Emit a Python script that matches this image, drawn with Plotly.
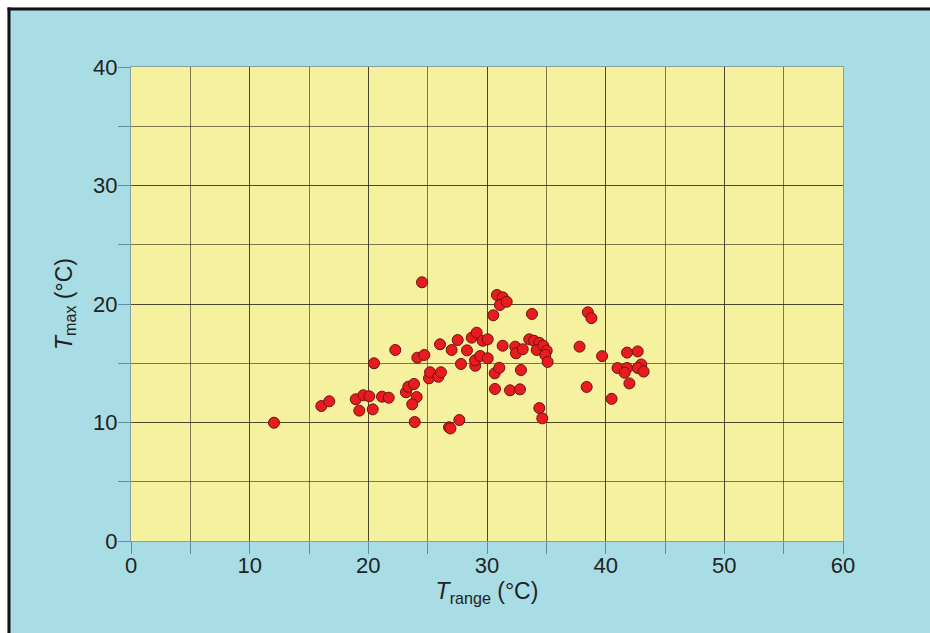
import plotly.graph_objects as go

t_range = [12.05, 16.04, 16.71, 18.94, 19.58, 20.08, 19.24, 20.37, 20.48, 21.15,
           21.72, 22.27, 23.17, 23.37, 23.85, 24.07, 23.70, 23.91, 24.13, 24.52,
           24.72, 25.11, 25.20, 25.90, 26.12, 26.04, 26.80, 26.92, 27.02, 27.53,
           27.67, 27.81, 28.31, 28.71, 29.13, 29.01, 28.99, 29.43, 29.64, 30.06,
           30.06, 30.53, 30.65, 30.67, 30.84, 31.32, 31.09, 31.66, 31.04, 31.32,
           31.94, 32.38, 32.44, 33.01, 32.78, 32.86, 33.56, 33.79, 33.96, 34.41,
           34.19, 34.74, 35.03, 34.91, 35.11, 34.41, 34.66, 37.8, 38.5, 38.8,
           38.4, 39.7, 40.5, 41.0, 41.8, 41.6, 41.8, 42.7, 43.0, 42.7,
           43.2, 42.0]
t_max = [9.98, 11.39, 11.79, 11.96, 12.30, 12.21, 11.00, 11.11, 15.00, 12.18,
         12.09, 16.12, 12.55, 13.02, 13.25, 12.15, 11.54, 10.04, 15.47, 21.83,
         15.70, 13.73, 14.24, 13.86, 14.24, 16.60, 9.60, 9.50, 16.12, 16.96,
         10.21, 14.94, 16.09, 17.16, 17.58, 14.79, 15.25, 15.61, 16.90, 17.02,
         15.42, 19.05, 14.15, 12.83, 20.76, 20.57, 19.92, 20.19, 14.62, 16.48,
         12.72, 16.40, 15.84, 16.18, 12.80, 14.43, 17.02, 19.16, 16.90, 16.73,
         16.12, 16.48, 16.06, 15.70, 15.11, 11.22, 10.35, 16.4, 19.3, 18.8,
         13.0, 15.6, 12.0, 14.6, 14.6, 14.2, 15.9, 16.0, 14.9, 14.6,
         14.3, 13.3]

x_ticks = [0, 10, 20, 30, 40, 50, 60]
y_ticks = [0, 10, 20, 30, 40]

BLUE = "#a9dde6"
YELLOW = "#f6f19f"
GRID = "rgba(40,40,20,0.6)"
TICKCOL = "#5f8f99"
TICKFONT = dict(family="Liberation Sans Narrow, Liberation Sans, Arial", size=22, color="#222222")
TITLEFONT = dict(family="Liberation Sans, Arial", size=23, color="#222222")

fig = go.Figure()
fig.add_trace(go.Scatter(
    x=t_range, y=t_max, mode="markers",
    marker=dict(size=11, color="#e81c1f", line=dict(color="#6e1212", width=1)),
    showlegend=False, hoverinfo="x+y",
))

# figure fills the whole window (body margin removed in post_script)
W, H = 930, 633
L, T = 131, 67
pw, ph = 712, 474
R = W - L - pw
B = H - T - ph

def px_x(p):
    return (p - L) / pw

def px_y(p):
    return (H - B - p) / ph

shapes = [
    dict(type="rect", xref="paper", yref="paper", x0=px_x(-20), x1=px_x(7.5), y0=px_y(H + 20), y1=px_y(-20),
         fillcolor="white", line=dict(width=0), layer="below"),
    dict(type="rect", xref="paper", yref="paper", x0=px_x(-20), x1=px_x(W + 20), y0=px_y(7.5), y1=px_y(-20),
         fillcolor="white", line=dict(width=0), layer="below"),
    dict(type="line", xref="paper", yref="paper", x0=px_x(9), x1=px_x(9), y0=px_y(H + 20), y1=px_y(7.5),
         line=dict(color="#111111", width=3)),
    dict(type="line", xref="paper", yref="paper", x0=px_x(7.5), x1=px_x(W + 20), y0=px_y(9), y1=px_y(9),
         line=dict(color="#111111", width=3)),
]

axis_common = dict(
    showgrid=True, gridcolor=GRID, gridwidth=1.4,
    ticks="outside", ticklen=12, tickcolor=TICKCOL, tickwidth=1,
    showline=True, linecolor="#8a9e9e", linewidth=1, mirror=True,
    zeroline=False, tickfont=TICKFONT,
)
minor = dict(dtick=5, tick0=0, showgrid=True, gridcolor=GRID, gridwidth=1.4,
             ticks="outside", ticklen=12, tickcolor=TICKCOL, tickwidth=1)

fig.update_layout(
    width=W, height=H,
    margin=dict(l=L, r=R, t=T, b=B, pad=0),
    paper_bgcolor=BLUE, plot_bgcolor=YELLOW,
    shapes=shapes,
    xaxis=dict(
        range=[0, 60], tickmode="array", tickvals=x_ticks, ticktext=[str(v) for v in x_ticks],
        minor=minor, ticklabelstandoff=-7,
        title=dict(text="<i>T</i><sub>range</sub> (°C)", font=TITLEFONT, standoff=0),
        **axis_common,
    ),
    yaxis=dict(
        range=[0, 40], tickmode="array", tickvals=y_ticks, ticktext=[str(v) for v in y_ticks],
        minor=minor, ticklabelstandoff=-4,
        title=dict(text="<i>T</i><sub>max</sub> (°C)", font=TITLEFONT, standoff=14),
        **axis_common,
    ),
)

fig.write_html(
    "out.html",
    config={"displayModeBar": False},
    post_script="document.body.style.margin='0';document.documentElement.style.overflow='hidden';document.body.style.overflow='hidden';",
)
